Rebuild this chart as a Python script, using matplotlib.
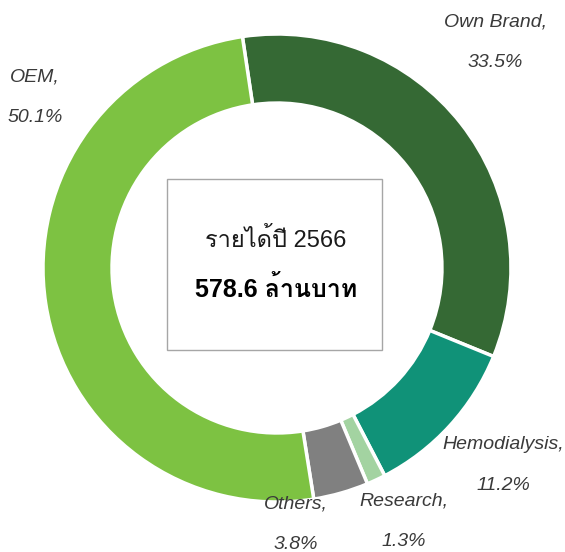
import matplotlib
matplotlib.use("Agg")
import matplotlib.pyplot as plt
from matplotlib import font_manager
from matplotlib.ft2font import FT2Font
from matplotlib.patches import Rectangle

# ข้อมูลสัดส่วนรายได้ (%)
segments = ["Own Brand", "Hemodialysis", "Research", "Others", "OEM"]
shares = [33.5, 11.2, 1.3, 3.8, 50.1]
colors = ["#356934", "#109278", "#A3D3A1", "#808080", "#7DC242"]
title_line = "รายได้ปี 2566"
total_line = "578.6 ล้านบาท"


def find_thai_font():
    # หา font ที่มีอักษรไทย
    for f in font_manager.fontManager.ttflist:
        try:
            if 0x0E23 in FT2Font(f.fname).get_charmap():
                return f.name
        except Exception:
            pass
    return "DejaVu Sans"


thai_font = find_thai_font()
fig = plt.figure(figsize=(5.65, 5.52), dpi=100)
ax = fig.add_axes([0.0761, 0.0906, 0.8283, 0.8478])
ax.pie(
    shares,
    colors=colors,
    startangle=98.5,
    counterclock=False,
    radius=1,
    wedgeprops=dict(width=0.295, edgecolor="white", linewidth=2.5),
)
ax.set_xlim(-1, 1)
ax.set_ylim(-1, 1)
ax.axis("off")

# ป้ายข้อมูล
label_pos = [(495, 42), (503, 465), (404, 521), (296, 524), (35, 97)]
for name, val, (px, py) in zip(segments, shares, label_pos):
    fig.text(px / 565, 1 - py / 552, f"{name},\n{val}%", ha="center", va="center",
             fontsize=14, style="italic", color="#3a3a3a", linespacing=2.8,
             family="Liberation Sans")

# กล่องตรงกลาง
fig.add_artist(Rectangle((167 / 565, 1 - 350 / 552), 215 / 565, 171 / 552,
                         transform=fig.transFigure, facecolor="white",
                         edgecolor="#A6A6A6", linewidth=1))
fig.text(276 / 565, 1 - 240 / 552, title_line, ha="center", va="center",
         fontsize=17, color="#1a1a1a", family=["Liberation Sans", thai_font])
fig.text(276 / 565, 1 - 289 / 552, total_line, ha="center", va="center",
         fontsize=18, fontweight="bold", color="#000000",
         family=["Liberation Sans", thai_font])

fig.savefig("out.png", dpi=100)
